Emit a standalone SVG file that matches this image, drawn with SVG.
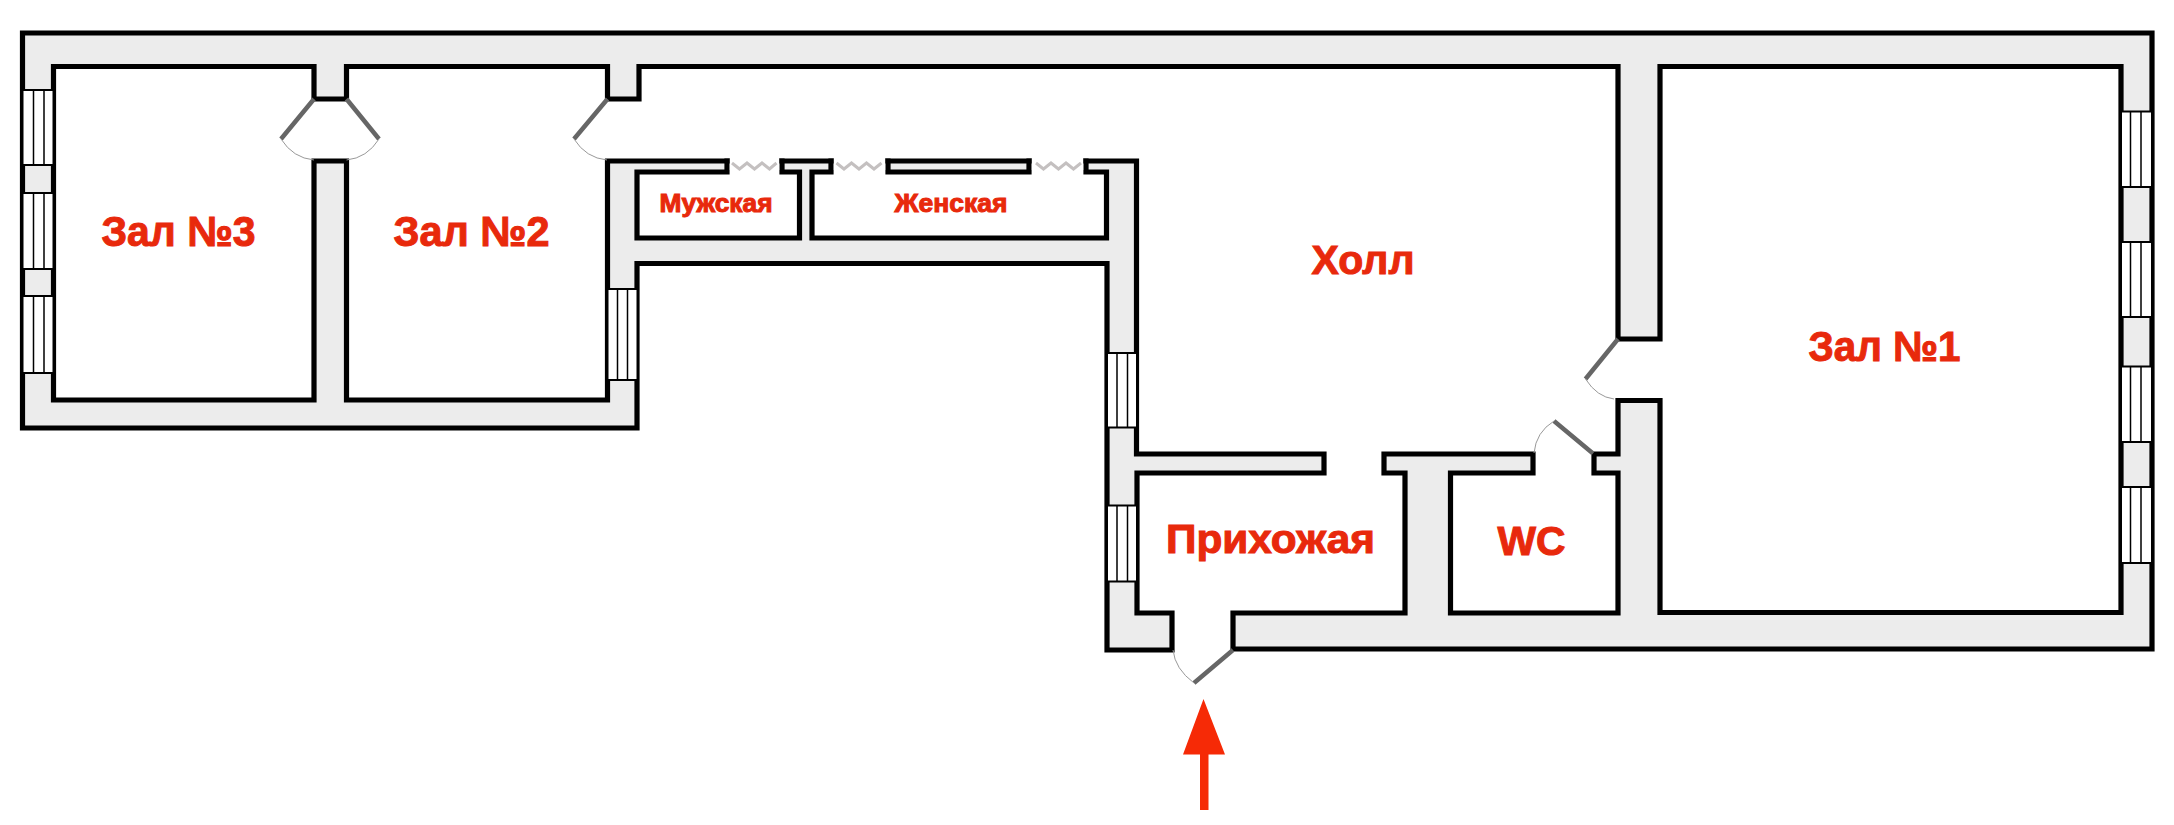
<svg xmlns="http://www.w3.org/2000/svg" width="2174" height="825" viewBox="0 0 2174 825">
<style>
.wall{fill:#ececec;stroke:#000;stroke-width:5.2;stroke-linejoin:miter}
.room{fill:#fff;stroke:#000;stroke-width:5.2;stroke-linejoin:miter}
.nostroke{fill:#fff;stroke:none}
.win{fill:#fff;stroke:#000;stroke-width:2}
.mull{stroke:#000;stroke-width:1.5;fill:none}
.leaf{stroke:#666;stroke-width:4.5;fill:none}
.arc{stroke:#999;stroke-width:1;fill:none}
.vent{stroke:#c4c0c0;stroke-width:3;fill:none}
.lab{font-family:"Liberation Sans",Arial,sans-serif;font-weight:700;fill:#e8290c;stroke:#e8290c;stroke-width:1}
</style>
<rect width="2174" height="825" fill="#fff"/>
<g id="walls">
<path class="wall" d="M22.5 33H2152V649H1233V613H1405V473H1384V454H1533V473H1450.5V613H1618V473H1594V454H1618V400.5H1660V612.5H2121V66.5H1660V339H1618V66.5H639V99H607.5V66.5H346.5V99H314V66.5H53.5V400H314V161H346.5V400H607.5V161H1136.5V454H1324V473H1137V613H1172V650H1107V263.5H637V428H22.5Z"/>
</g>
<g id="room-mens"><path class="room" d="M637 172H727V161H782V172H799.5V238H637Z"/></g>
<g id="room-womens"><path class="room" d="M812 172H831V161H888V172H1029V161H1086V172H1106.5V238H812Z"/></g>
<g id="openings">
<rect class="nostroke" x="729.8" y="157" width="49.4" height="13"/>
<rect class="nostroke" x="833.8" y="157" width="51.4" height="13"/>
<rect class="nostroke" x="1031.8" y="157" width="51.4" height="13"/>
</g>
<g id="windows">
<rect class="win" x="22.5" y="90" width="31" height="75"/>
<rect class="win" x="22.5" y="193" width="31" height="76"/>
<rect class="win" x="22.5" y="296" width="31" height="77"/>
<path class="mull" d="M33.5 90V165M44 90V165M33.5 193V269M44 193V269M33.5 296V373M44 296V373"/>
<rect class="win" x="607.5" y="289" width="30" height="91"/>
<path class="mull" d="M617.5 289V380M627.5 289V380"/>
<rect class="win" x="1107" y="353" width="30" height="74.5"/>
<rect class="win" x="1107" y="505.5" width="30" height="76"/>
<path class="mull" d="M1117 353V427.5M1127.5 353V427.5M1117 505.5V581.5M1127.5 505.5V581.5"/>
<rect class="win" x="2121" y="111.5" width="31" height="75.5"/>
<rect class="win" x="2121" y="242" width="31" height="75"/>
<rect class="win" x="2121" y="366.5" width="31" height="75.5"/>
<rect class="win" x="2121" y="487" width="31" height="76"/>
<path class="mull" d="M2130.5 111.5V187M2141 111.5V187M2130.5 242V317M2141 242V317M2130.5 366.5V442M2141 366.5V442M2130.5 487V563M2141 487V563"/>
</g>
<g id="doors">
<path class="leaf" d="M314 99L281 139M346.5 99L379 139M607.5 99L574 139M1618 339L1585.5 379M1593 453.5L1554 421M1233 650L1194 683"/>
<path class="arc" d="M281 139Q293 158 314 160M379 139Q367 158 346.5 160M574 139Q586 158 607 160M1585.5 379Q1597 397 1614 399M1554 421Q1536 432 1534 453M1194 683Q1175 669 1173 650"/>
</g>
<g id="vents">
<path class="vent" d="M732 163l7.5 6 7.5-6 7.5 6 7.5-6 7.5 6 7-6"/>
<path class="vent" d="M836.5 163l7.5 6 7.5-6 7.5 6 7.5-6 7.5 6 7.5-6"/>
<path class="vent" d="M1036 163l7.5 6 7.5-6 7.5 6 7.5-6 7.5 6 7.5-6"/>
</g>
<g id="labels">
<text class="lab" x="101.5" y="246" font-size="42" textLength="154" lengthAdjust="spacingAndGlyphs">Зал №3</text>
<text class="lab" x="393.5" y="246" font-size="42" textLength="156" lengthAdjust="spacingAndGlyphs">Зал №2</text>
<text class="lab" x="1808.5" y="361" font-size="42" textLength="152" lengthAdjust="spacingAndGlyphs">Зал №1</text>
<text class="lab" x="1311.5" y="274" font-size="40" textLength="103" lengthAdjust="spacingAndGlyphs">Холл</text>
<text class="lab" x="659.5" y="212" font-size="25" textLength="113" lengthAdjust="spacingAndGlyphs">Мужская</text>
<text class="lab" x="894.5" y="212" font-size="25" textLength="113" lengthAdjust="spacingAndGlyphs">Женская</text>
<text class="lab" x="1166" y="553" font-size="40" textLength="209" lengthAdjust="spacingAndGlyphs">Прихожая</text>
<text class="lab" x="1497.5" y="555" font-size="40" textLength="68" lengthAdjust="spacingAndGlyphs">WC</text>
</g>
<g id="entrance-arrow">
<path fill="#f62a06" d="M1203.5 699L1225 754.5H1208.5V810H1200V754.5H1183Z"/>
</g>
</svg>
